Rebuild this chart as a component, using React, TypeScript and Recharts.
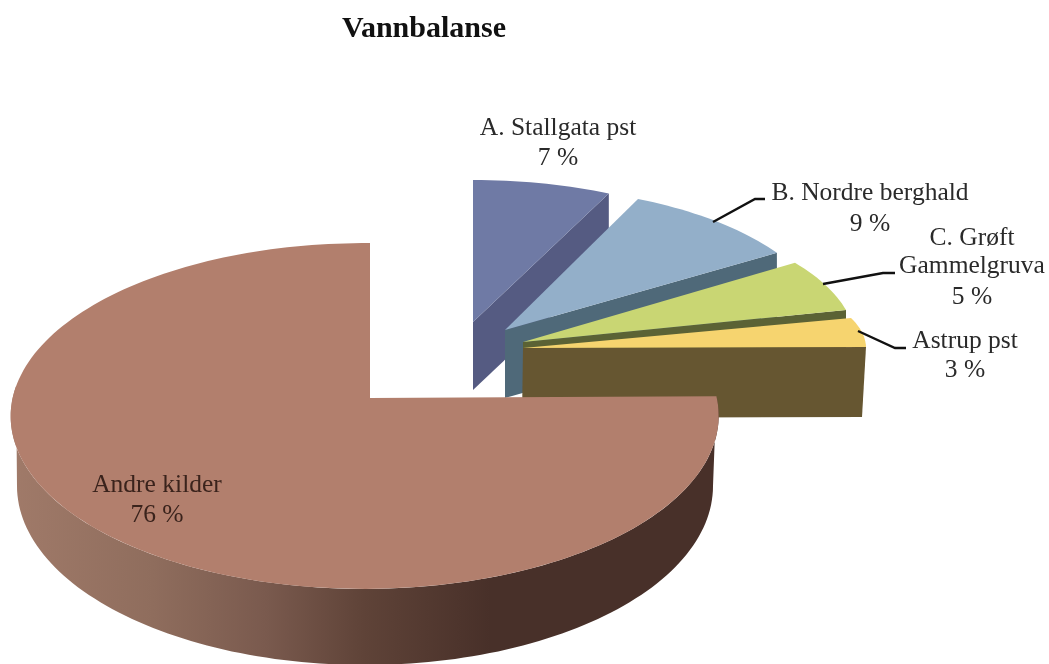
import React from 'react';
import { PieChart, Pie } from 'recharts';

const CATEGORIES = ['A. Stallgata pst', 'B. Nordre berghald', 'C. Grøft Gammelgruva', 'Astrup pst', 'Andre kilder'];
const VALUES = [7, 9, 5, 3, 76];
const VALUE_LABELS = ['7 %', '9 %', '5 %', '3 %', '76 %'];
const LABEL_LINES = [['A. Stallgata pst'], ['B. Nordre berghald'], ['C. Grøft', 'Gammelgruva'], ['Astrup pst'], ['Andre kilder']];

const data = CATEGORIES.map((name, i) => ({ name, value: VALUES[i] }));

type Geo = {
  ax: number; ay: number; rx: number; ry: number; k: number; m: number;
  depth: number; startAdj: number; endAdj: number; top: string; side: string; narrow: number;
};
// Projection of each exploded slice: apex, radii, perspective terms, extrusion
const GEOMETRY: Geo[] = [
  { ax: 473, ay: 322, rx: 319, ry: 142, k: 0, m: 0, depth: 68, startAdj: 0, endAdj: 0, top: '#6f7aa5', side: '#555b82', narrow: 0 },
  { ax: 505, ay: 330, rx: 322, ry: 144, k: 0, m: 0, depth: 68, startAdj: -0.8, endAdj: 0, top: '#93afc9', side: '#4f6979', narrow: 0 },
  { ax: 523, ay: 342, rx: 332, ry: 138, k: 0, m: 0, depth: 68, startAdj: -2.6, endAdj: 1, top: '#c9d673', side: '#5b6235', narrow: 0 },
  { ax: 523, ay: 348, rx: 343, ry: 103, k: 0, m: 0, depth: 70, startAdj: -2.6, endAdj: 3, top: '#f6d46f', side: '#665631', narrow: 4 },
  { ax: 370, ay: 398, rx: 352, ry: 171, k: 0.104, m: 0.015, depth: 0, startAdj: 3, endAdj: 0, top: '#b27f6d', side: 'url(#wallGradient)', narrow: 0 },
];
// Lower rim of the large slice's wall
const RIM = { cx: 365, cy: 486, rx: 348, ry: 179 };
const LABEL_POS = [
  { cx: 558, ys: [135, 165] },
  { cx: 870, ys: [200, 231] },
  { cx: 972, ys: [245, 273, 304] },
  { cx: 965, ys: [348, 377] },
  { cx: 157, ys: [492, 522] },
];
const LEADERS: (string | null)[] = [
  null,
  '713,222 755,199 765,199',
  '823,284 883,273 895,273',
  '858,331 895,348 906,348',
  null,
];
const LABEL_COLORS = ['#2a2a2a', '#2a2a2a', '#2a2a2a', '#2a2a2a', '#3a231c'];
const FONT = '"Liberation Serif", serif';

const project = (g: Geo, deg: number): [number, number] => {
  const t = (deg * Math.PI) / 180;
  const u = Math.sin(t);
  const v = Math.cos(t);
  const w = 1 + g.k * v + g.m * u;
  return [g.ax + (g.rx * u) / w, g.ay - (g.ry * v) / w];
};

const arc = (g: Geo, from: number, to: number): [number, number][] => {
  const n = Math.max(8, Math.ceil(Math.abs(to - from) / 1.5));
  const pts: [number, number][] = [];
  for (let i = 0; i <= n; i++) pts.push(project(g, from + ((to - from) * i) / n));
  return pts;
};

const toPath = (pts: [number, number][]) =>
  pts.map((p, i) => `${i ? 'L' : 'M'}${p[0].toFixed(1)},${p[1].toFixed(1)}`).join(' ') + ' Z';

const SliceShape = (props: any) => {
  const idx = CATEGORIES.indexOf(props.payload?.name ?? props.name);
  const g = GEOMETRY[idx];
  const isMain = idx === 4;
  const start = 90 - props.startAngle + g.startAdj;
  const end = 90 - props.endAngle + g.endAdj;
  const topArc = arc(g, start, end);
  const apex: [number, number] = [g.ax, g.ay];
  const topFace = toPath([apex, ...topArc]);

  let sideFace = '';
  if (isMain) {
    const wall = arc(g, start, 274);
    const rimGeo: Geo = { ...g, ax: RIM.cx, ay: RIM.cy, rx: RIM.rx, ry: RIM.ry, k: 0, m: 0 };
    const low = arc(rimGeo, 90, 270).reverse();
    sideFace = toPath([...wall, ...low]);
  } else {
    const last = topArc[topArc.length - 1];
    sideFace = toPath([
      apex,
      last,
      [last[0] - g.narrow, last[1] + g.depth],
      [apex[0] - (g.narrow ? 1 : 0), apex[1] + g.depth],
    ]);
  }

  return (
    <g>
      {isMain && (
        <defs>
          <linearGradient id="wallGradient" gradientUnits="userSpaceOnUse" x1="12" y1="0" x2="715" y2="0">
            <stop offset="0" stopColor="#a07a69" />
            <stop offset="0.2" stopColor="#8f6d5d" />
            <stop offset="0.36" stopColor="#7a5a4e" />
            <stop offset="0.5" stopColor="#5f4338" />
            <stop offset="0.68" stopColor="#483029" />
            <stop offset="1" stopColor="#483029" />
          </linearGradient>
        </defs>
      )}
      <path d={sideFace} fill={g.side} stroke="none" />
      <path d={topFace} fill={g.top} stroke="none" />
    </g>
  );
};

const SliceLabel = (props: any) => {
  const idx = CATEGORIES.indexOf(props.payload?.name ?? props.name);
  if (idx < 0) return null;
  const pos = LABEL_POS[idx];
  const lines = [...LABEL_LINES[idx], VALUE_LABELS[idx]];
  const leader = LEADERS[idx];
  return (
    <g>
      {leader && <polyline points={leader} fill="none" stroke="#111" strokeWidth={2.4} />}
      {lines.map((line, i) => (
        <text key={i} x={pos.cx} y={pos.ys[i]} textAnchor="middle" fontFamily={FONT} fontSize={25.5} fill={LABEL_COLORS[idx]}>
          {line}
        </text>
      ))}
    </g>
  );
};

export default function App() {
  return (
    <div style={{ position: 'fixed', left: 0, top: 0, width: 1049, height: 664, background: '#fff', overflow: 'hidden', filter: 'blur(0.5px)' }}>
      <PieChart width={1049} height={664} margin={{ top: 0, right: 0, bottom: 0, left: 0 }}>
        <text x={342} y={37} fontFamily={FONT} fontWeight="bold" fontSize={30} fill="#111">
          Vannbalanse
        </text>
        <Pie
          data={data}
          dataKey="value"
          nameKey="name"
          cx={370}
          cy={398}
          outerRadius={170}
          startAngle={90}
          endAngle={-270}
          paddingAngle={0}
          isAnimationActive={false}
          shape={SliceShape}
          label={SliceLabel}
          labelLine={false}
          stroke="none"
        />
      </PieChart>
    </div>
  );
}
